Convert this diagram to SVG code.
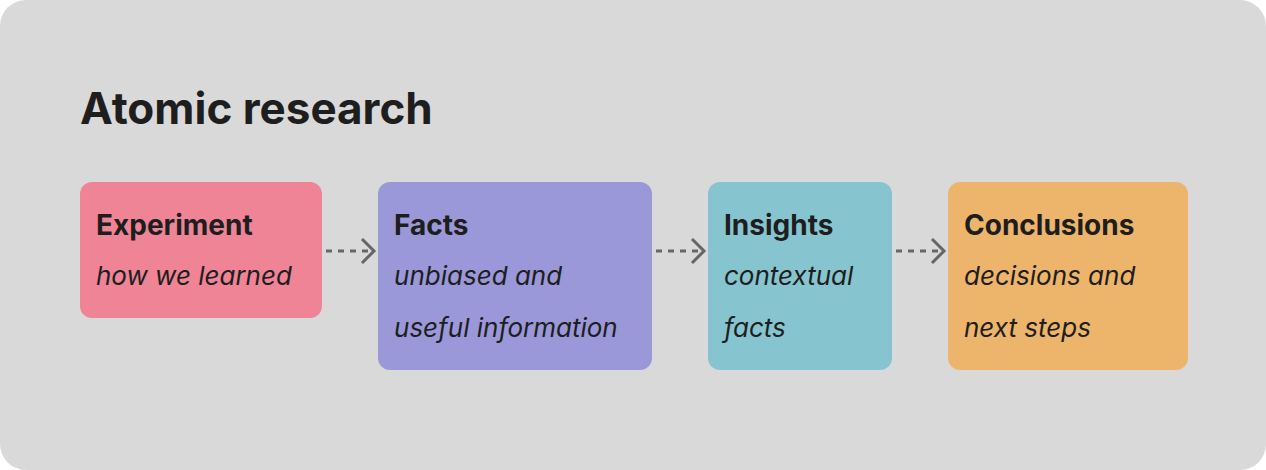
<svg xmlns="http://www.w3.org/2000/svg" width="1266" height="470" viewBox="0 0 1266 470">
<style>
.t{font-family:Inter,"Liberation Sans",sans-serif;fill:#1e1e1e}
.h{font-size:28px;font-weight:700}
.i{font-size:26px;font-style:italic}
.c{stroke:#666;stroke-width:3;fill:none}
</style>
<rect width="1266" height="470" fill="#fff"/>
<rect width="1266" height="470" rx="26" fill="#d9d9d9"/>
<text class="t" x="80" y="124" font-size="44" font-weight="700">Atomic research</text>
<g id="experiment"><rect x="80" y="182" width="242" height="136" rx="12" fill="#ee8496"/>
<text class="t h" x="96" y="235">Experiment</text><text class="t i" x="96" y="285">how we learned</text></g>
<g id="facts"><rect x="378" y="182" width="274" height="188" rx="12" fill="#9a98d8"/>
<text class="t h" x="394" y="235">Facts</text><text class="t i" x="394" y="285">unbiased and</text><text class="t i" x="394" y="337">useful information</text></g>
<g id="insights"><rect x="708" y="182" width="184" height="188" rx="12" fill="#86c5cf"/>
<text class="t h" x="724" y="235">Insights</text><text class="t i" x="724" y="285">contextual</text><text class="t i" x="724" y="337">facts</text></g>
<g id="conclusions"><rect x="948" y="182" width="240" height="188" rx="12" fill="#edb56c"/>
<text class="t h" x="964" y="235">Conclusions</text><text class="t i" x="964" y="285">decisions and</text><text class="t i" x="964" y="337">next steps</text></g>
<g id="connectors">
<path class="c" d="M326 251H370" stroke-dasharray="6 6"/><path class="c" d="M362 239L374 251L362 263"/>
<path class="c" d="M656 251H700" stroke-dasharray="6 6"/><path class="c" d="M692 239L704 251L692 263"/>
<path class="c" d="M896 251H940" stroke-dasharray="6 6"/><path class="c" d="M932 239L944 251L932 263"/>
</g>
</svg>
